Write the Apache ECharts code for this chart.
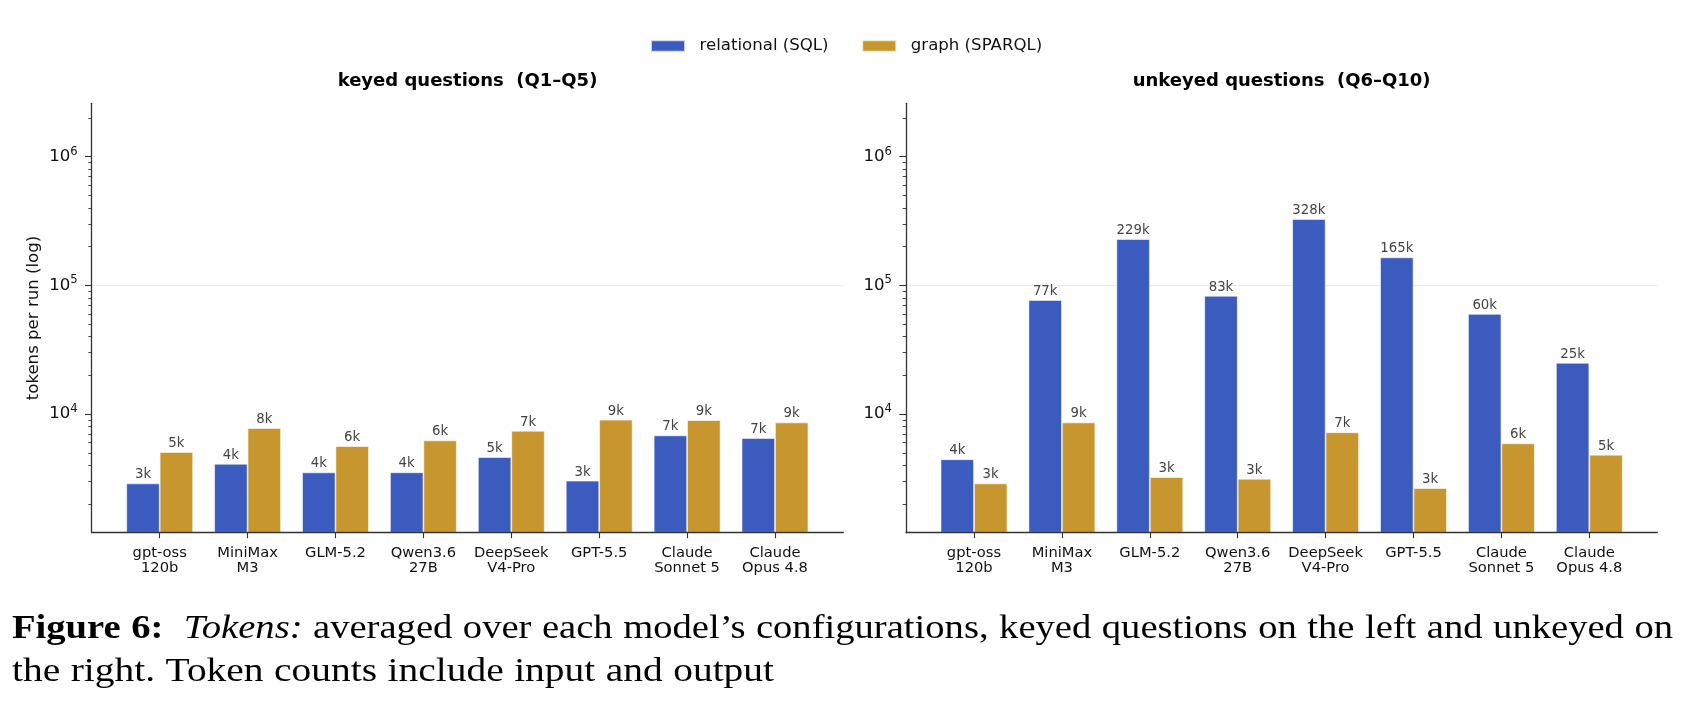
<!DOCTYPE html>
<html><head><meta charset="utf-8">
<script src="https://cdn.jsdelivr.net/npm/echarts@6/dist/echarts.min.js"></script>
<style>html,body{margin:0;padding:0;background:#fff}#c{width:1690px;height:706px}</style>
</head><body><div id="c"></div>
<script>
// ---------------- data ----------------
const categories = ['gpt-oss\n120b', 'MiniMax\nM3', 'GLM-5.2', 'Qwen3.6\n27B', 'DeepSeek\nV4-Pro', 'GPT-5.5', 'Claude\nSonnet 5', 'Claude\nOpus 4.8'];
const seriesNames = ['relational (SQL)', 'graph (SPARQL)'];
const keyedSQL = [2890, 4110, 3520, 3530, 4630, 3035, 6830, 6510];
const keyedSPARQL = [5070, 7790, 5640, 6240, 7420, 9040, 8980, 8610];
const unkeyedSQL = [4450, 77000, 229000, 83000, 328000, 165000, 60000, 25000];
const unkeyedSPARQL = [2890, 8610, 3240, 3140, 7220, 2660, 5920, 4830];
const panelTitles = ['keyed questions  (Q1\u2013Q5)', 'unkeyed questions  (Q6\u2013Q10)'];
const yAxisName = 'tokens per run (log)';
const yMajorTicks = [1e4, 1e5, 1e6];
const yMinorTicks = [2000, 3000, 4000, 5000, 6000, 7000, 8000, 9000,
  20000, 30000, 40000, 50000, 60000, 70000, 80000, 90000,
  200000, 300000, 400000, 500000, 600000, 700000, 800000, 900000, 2000000];
const yMin = 1197, yMax = 2600000;
const captionLine1 = [['Figure', 'b'], ['6:', 'b'], ['Tokens:', 'i'], ['averaged', ''], ['over', ''], ['each', ''],
  ['model\u2019s', ''], ['configurations,', ''], ['keyed', ''], ['questions', ''], ['on', ''], ['the', ''], ['left', ''],
  ['and', ''], ['unkeyed', ''], ['on', '']];
const captionLine2 = [['the', ''], ['right.', ''], ['Token', ''], ['counts', ''], ['include', ''], ['input', ''], ['and', ''], ['output', '']];

// ---------------- style ----------------
const BLUE = '#3B5BBF', GOLD = '#C8962E';
const FONT = 'DejaVu Sans';
const AX = '#333';
const TOP = 103.3, H = 429.4;
const frames = [{ left: 91.7, width: 751.6 }, { left: 906, width: 751.3 }];
const dataInset = 24.05, dataWidth = 703.2;

const chart = echarts.init(document.getElementById('c'), null, { renderer: 'canvas' });

const grid = [], xAxis = [], yAxis = [], series = [];
const panelData = [[keyedSQL, keyedSPARQL], [unkeyedSQL, unkeyedSPARQL]];

frames.forEach((f, p) => {
  const gFrame = grid.length;
  grid.push({ left: f.left, top: TOP, width: f.width, height: H, outerBoundsMode: 'none', containLabel: false });
  const gData = grid.length;
  grid.push({ left: f.left + dataInset, top: TOP, width: dataWidth, height: H, outerBoundsMode: 'none', containLabel: false });

  // frame x axis (spine only)
  xAxis.push({ gridIndex: gFrame, type: 'value', min: 0, max: 1, z: 5,
    axisLine: { show: true, lineStyle: { color: AX, width: 1.3 } },
    axisTick: { show: false }, axisLabel: { show: false }, splitLine: { show: false } });
  // category x axis
  const xData = xAxis.length;
  xAxis.push({ gridIndex: gData, type: 'category', data: categories, boundaryGap: true, z: 5,
    axisLine: { show: false },
    axisTick: { show: true, alignWithLabel: true, length: 5.5, lineStyle: { color: AX, width: 1.1 } },
    axisLabel: { interval: 0, fontFamily: FONT, fontSize: 14.7, lineHeight: 15.5, color: '#111', margin: 12.5 },
    splitLine: { show: false } });

  // frame y axis (major) – kept under the bars so the grid lines sit behind them
  yAxis.push({ gridIndex: gFrame, type: 'log', min: yMin, max: yMax, position: 'left', z: 1,
    name: p === 0 ? yAxisName : '', nameLocation: 'middle', nameGap: 50,
    nameTextStyle: { fontFamily: FONT, fontSize: 16.6, color: '#111' },
    axisLine: { show: true, lineStyle: { color: AX, width: 1.3 } },
    axisTick: { show: true, customValues: yMajorTicks, length: 6.7, lineStyle: { color: AX, width: 1.1 } },
    axisLabel: { customValues: yMajorTicks, margin: 14,
      formatter: v => '{b|10}{s|' + Math.round(Math.log10(v)) + '}',
      rich: {
        b: { fontFamily: FONT, fontSize: 16.6, color: '#111', lineHeight: 22 },
        s: { fontFamily: FONT, fontSize: 11.6, color: '#111', lineHeight: 10, verticalAlign: 'top' }
      } },
    splitLine: { show: true, showMinLine: false, showMaxLine: false, lineStyle: { color: '#ebebeb', width: 1 } } });
  // frame y axis (minor ticks)
  yAxis.push({ gridIndex: gFrame, type: 'log', min: yMin, max: yMax, position: 'left', z: 5,
    axisLine: { show: false },
    axisTick: { show: true, customValues: yMinorTicks, length: 3.4, lineStyle: { color: AX, width: 0.9 } },
    axisLabel: { show: false }, splitLine: { show: false } });
  // data y axis (hidden)
  const yData = yAxis.length;
  yAxis.push({ gridIndex: gData, type: 'log', min: yMin, max: yMax, startValue: yMin, show: false,
    axisLine: { show: false }, axisTick: { show: false }, axisLabel: { show: false }, splitLine: { show: false } });

  [0, 1].forEach(s => {
    series.push({
      type: 'bar', name: seriesNames[s], xAxisIndex: xData, yAxisIndex: yData,
      data: panelData[p][s], barWidth: '38%', barGap: '0%', clip: true, z: 3,
      itemStyle: { color: s === 0 ? BLUE : GOLD, borderColor: 'rgba(255,255,255,0.7)', borderWidth: 0.8 },
      label: { show: true, position: 'top', distance: 2, fontFamily: FONT, fontSize: 13.3, color: '#444',
        formatter: q => Math.round(q.value / 1000) + 'k' },
      emphasis: { disabled: true }
    });
  });
});

// ---------------- graphic texts ----------------
const graphic = [];
panelTitles.forEach((t, p) => {
  graphic.push({ type: 'text', x: frames[p].left + frames[p].width / 2, y: 81.7,
    style: { text: t, fontFamily: FONT, fontSize: 18, fontWeight: 'bold', fill: '#000',
      align: 'center', verticalAlign: 'middle', textAlign: 'center', textVerticalAlign: 'middle' } });
});

const CAP_FS = 34, CAP_FAM = 'Liberation Serif', CAP_GAP = 10.5, CAP_EXTRA = 10;
const mctx = document.createElement('canvas').getContext('2d');
function capFont(st) {
  return (st === 'i' ? 'italic ' : '') + (st === 'b' ? 'bold ' : '') + CAP_FS + 'px "' + CAP_FAM + '"';
}
function placeLine(words, x0, x1, y, extraAfter) {
  const nat = words.map(([w, st]) => { mctx.font = capFont(st); return mctx.measureText(w).width; });
  const total = nat.reduce((a, b) => a + b, 0);
  const extra = extraAfter >= 0 ? CAP_EXTRA : 0;
  const k = (x1 - x0 - extra - CAP_GAP * (words.length - 1)) / total;
  let x = x0;
  words.forEach(([w, st], i) => {
    graphic.push({ type: 'text', x: x, y: y, scaleX: k,
      style: { text: w, fontFamily: CAP_FAM, fontSize: CAP_FS, fontWeight: st === 'b' ? 'bold' : 'normal',
        fontStyle: st === 'i' ? 'italic' : 'normal', fill: '#000',
        align: 'left', verticalAlign: 'middle', textAlign: 'left', textVerticalAlign: 'middle' } });
    x += nat[i] * k + CAP_GAP + (i === extraAfter ? CAP_EXTRA : 0);
  });
}
placeLine(captionLine1, 12, 1673, 629.5, 1);
placeLine(captionLine2, 12, 774, 672, -1);

chart.setOption({
  animation: false,
  backgroundColor: '#fff',
  textStyle: { fontFamily: FONT },
  legend: { data: seriesNames, left: 645, top: 32, icon: 'rect', itemWidth: 34, itemHeight: 11.7, itemGap: 32.7,
    selectedMode: false,
    textStyle: { fontFamily: FONT, fontSize: 16.6, color: '#111', lineHeight: 18, padding: [0, 0, 0, 9.5] } },
  grid, xAxis, yAxis, series, graphic
});
</script></body></html>
